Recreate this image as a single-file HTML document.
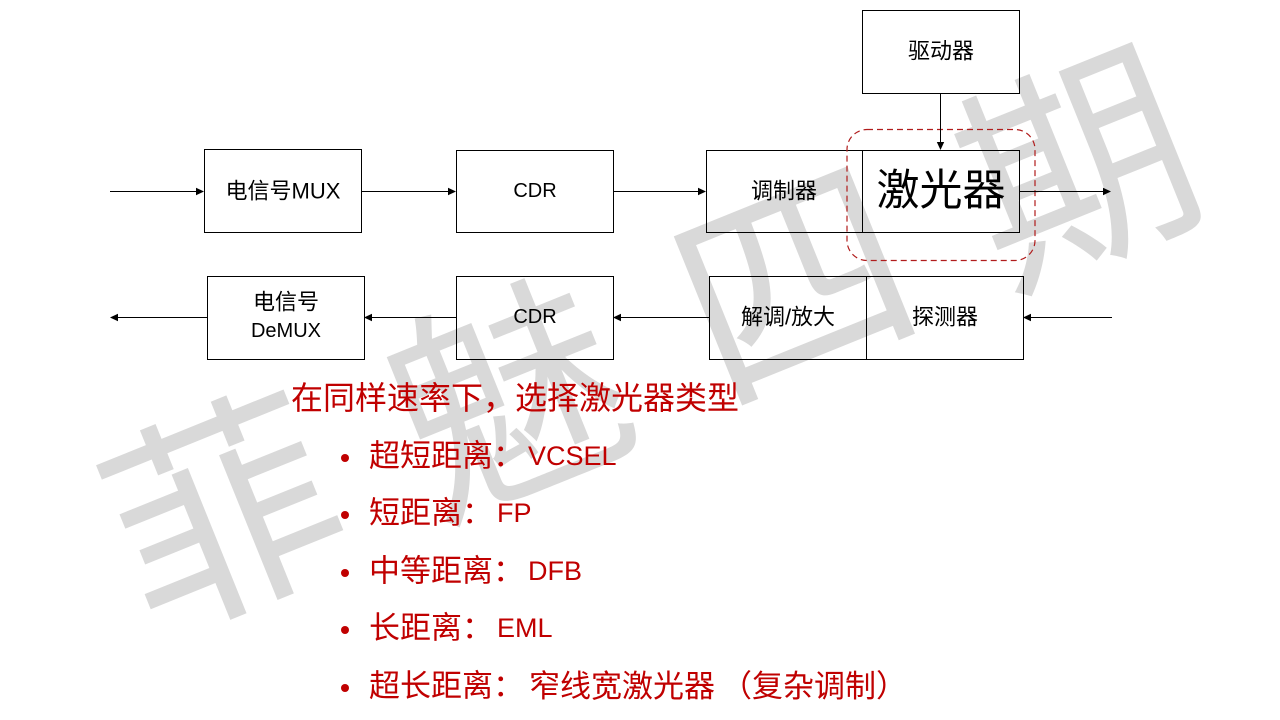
<!DOCTYPE html>
<html>
<head>
<meta charset="utf-8">
<style>
  html, body { margin:0; padding:0; background:#fff; }
  body { width:1280px; height:720px; overflow:hidden; position:relative; }
  svg { position:absolute; left:0; top:0; }
</style>
</head>
<body>
<svg width="1280" height="720" viewBox="0 0 1280 720" xmlns="http://www.w3.org/2000/svg">
  <!-- watermark -->
  <g font-family="'Liberation Sans','Noto Sans CJK SC',sans-serif" font-size="228" fill="#d9d9d9" text-anchor="middle" dominant-baseline="central">
    <text x="226" y="518" transform="rotate(-22 226 518)">菲</text>
    <text x="511" y="403" transform="rotate(-22 511 403)">魅</text>
    <text x="796" y="288" transform="rotate(-22 796 288)">四</text>
    <text x="1080" y="173" transform="rotate(-22 1080 173)">期</text>
  </g>

  <!-- boxes -->
  <g fill="none" stroke="#000" stroke-width="1.2" shape-rendering="crispEdges">
    <rect x="204.5" y="149.5" width="157" height="83"/>
    <rect x="456.5" y="150.5" width="157" height="82"/>
    <rect x="706.5" y="150.5" width="313" height="82"/>
    <line x1="862.5" y1="150.5" x2="862.5" y2="232.5"/>
    <rect x="862.5" y="10.5" width="157" height="83"/>
    <rect x="207.5" y="276.5" width="157" height="83"/>
    <rect x="456.5" y="276.5" width="157" height="83"/>
    <rect x="709.5" y="276.5" width="314" height="83"/>
    <line x1="866.5" y1="276.5" x2="866.5" y2="359.5"/>
  </g>

  <!-- dashed highlight -->
  <rect x="847" y="129.5" width="188" height="131" rx="20" ry="20" fill="none" stroke="#b01c1c" stroke-width="1.2" stroke-dasharray="6 4"/>

  <!-- connectors -->
  <g stroke="#000" stroke-width="1">
    <line x1="110" y1="191.5" x2="198" y2="191.5"/>
    <line x1="362" y1="191.5" x2="450" y2="191.5"/>
    <line x1="614" y1="191.5" x2="700" y2="191.5"/>
    <line x1="1020" y1="191.5" x2="1105" y2="191.5"/>
    <line x1="940.5" y1="94" x2="940.5" y2="143"/>
    <line x1="1112" y1="317.5" x2="1030" y2="317.5"/>
    <line x1="709" y1="317.5" x2="620" y2="317.5"/>
    <line x1="456" y1="317.5" x2="371" y2="317.5"/>
    <line x1="207" y1="317.5" x2="117" y2="317.5"/>
  </g>
  <g fill="#000">
    <polygon points="204,191.5 196,187.8 196,195.2"/>
    <polygon points="456,191.5 448,187.8 448,195.2"/>
    <polygon points="706,191.5 698,187.8 698,195.2"/>
    <polygon points="1111,191.5 1103,187.8 1103,195.2"/>
    <polygon points="940.5,150 936.8,142 944.2,142"/>
    <polygon points="1023,317.5 1031,313.8 1031,321.2"/>
    <polygon points="613,317.5 621,313.8 621,321.2"/>
    <polygon points="364,317.5 372,313.8 372,321.2"/>
    <polygon points="110,317.5 118,313.8 118,321.2"/>
  </g>

  <!-- box labels -->
  <g font-family="'Liberation Sans','Noto Sans CJK SC',sans-serif" fill="#000" text-anchor="middle" dominant-baseline="central">
    <text x="283" y="191" font-size="22">电信号MUX</text>
    <text x="535" y="191" font-size="20">CDR</text>
    <text x="784" y="191" font-size="22">调制器</text>
    <text x="941" y="191" font-size="43">激光器</text>
    <text x="941" y="51" font-size="22">驱动器</text>
    <text x="286" y="302" font-size="22">电信号</text>
    <text x="286" y="331" font-size="20">DeMUX</text>
    <text x="535" y="317" font-size="20">CDR</text>
    <text x="788" y="317" font-size="22">解调/放大</text>
    <text x="945" y="317" font-size="22">探测器</text>
  </g>

  <!-- red text -->
  <g font-family="'Liberation Sans','Noto Sans CJK SC',sans-serif" fill="#c00000" dominant-baseline="central">
    <text x="291" y="398" font-size="32">在同样速率下，选择激光器类型</text>
    <text x="369" y="456" font-size="31">超短距离：<tspan dx="4" font-size="27">VCSEL</tspan></text>
    <text x="369" y="513" font-size="31">短距离：<tspan dx="4" font-size="27">FP</tspan></text>
    <text x="369" y="571" font-size="31">中等距离：<tspan dx="4" font-size="27">DFB</tspan></text>
    <text x="369" y="628" font-size="31">长距离：<tspan dx="4" font-size="27">EML</tspan></text>
    <text x="369" y="686" font-size="31">超长距离：<tspan dx="5">窄线宽激光器</tspan><tspan dx="6">（复杂调制）</tspan></text>
  </g>
  <g fill="#c00000">
    <circle cx="345" cy="458" r="4"/>
    <circle cx="345" cy="515" r="4"/>
    <circle cx="345" cy="573" r="4"/>
    <circle cx="345" cy="630" r="4"/>
    <circle cx="345" cy="688" r="4"/>
  </g>
</svg>
</body>
</html>
